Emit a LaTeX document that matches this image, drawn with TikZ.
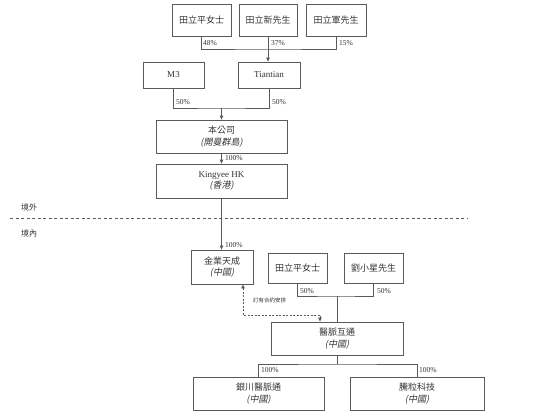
\documentclass[tikz,border=0pt]{standalone}
\usepackage{fontspec}
\setmainfont{Liberation Serif}
\newfontfamily\cjk{Noto Sans CJK TC}
\newfontfamily\cjkit[FakeSlant=0.2]{Noto Sans CJK TC}
\usetikzlibrary{arrows.meta,calc}
\definecolor{linec}{HTML}{5A5A5A}
\definecolor{txt}{HTML}{333333}
\tikzset{
  box/.style={draw=linec, line width=0.8pt, rectangle, inner sep=0pt, align=center,
    text=txt, font=\fontsize{9}{11.5}\selectfont\cjk},
  conn/.style={draw=linec, line width=0.8pt},
  arr/.style={conn, -{Triangle[length=4pt,width=3.5pt]}},
  pct/.style={anchor=west, inner sep=0pt, text=txt, font=\fontsize{7.5}{8}\selectfont},
  side/.style={anchor=west, inner sep=0pt, text=txt, font=\fontsize{8}{9}\selectfont\cjk},
}
\begin{document}
\begin{tikzpicture}[x=1pt,y=-1pt]
\useasboundingbox (0,0) rectangle (550,418);
% top shareholders
\node[box, minimum width=59pt, minimum height=32pt] (a1) at (201.5,20) {田立平女士};
\node[box, minimum width=58pt, minimum height=32pt] (a2) at (268,20) {田立新先生};
\node[box, minimum width=60pt, minimum height=32pt] (a3) at (336,20) {田立軍先生};
\node[box, minimum width=61pt, minimum height=26pt, font=\fontsize{9}{11}\selectfont] (m3) at (173.5,75) {M3};
\node[box, minimum width=62pt, minimum height=26pt, font=\fontsize{9}{11}\selectfont] (tt) at (269,75) {Tiantian};
\node[box, minimum width=131pt, minimum height=33pt] (co) at (221.5,136.5) {本公司\\{\cjkit(開曼群島)}};
\node[box, minimum width=131pt, minimum height=34pt] (hk) at (221.5,181) {{\rmfamily Kingyee HK}\\{\cjkit(香港)}};
\node[box, minimum width=62pt, minimum height=34pt] (jy) at (222,267) {金業天成\\{\cjkit(中國)}};
\node[box, minimum width=59pt, minimum height=30pt] (b1) at (297.5,268) {田立平女士};
\node[box, minimum width=59pt, minimum height=30pt] (b2) at (373.5,268) {劉小星先生};
\node[box, minimum width=132pt, minimum height=33pt] (ym) at (337,338.5) {醫脈互通\\{\cjkit(中國)}};
\node[box, minimum width=131pt, minimum height=33pt] (s1) at (258.5,393.5) {銀川醫脈通\\{\cjkit(中國)}};
\node[box, minimum width=134pt, minimum height=33pt] (s2) at (417,393.5) {騰粒科技\\{\cjkit(中國)}};

% junction coordinates
\coordinate (j1) at (268,49);
\coordinate (j2) at (221.5,108);
\coordinate (j3) at (337,296);
\coordinate (j4) at (337,364);
\coordinate (dl) at (243,315);
\coordinate (dr) at (320,315);
\coordinate (sepL) at (10,218);
\coordinate (sepR) at (468,218);

% top merge
\draw[conn] (a1.south) |- (j1) -| (a3.south);
\draw[conn] (a2.south) -- (j1);
\draw[arr] (j1) -- (j1 |- tt.north);
\node[pct] at (203,43) {48\%};
\node[pct] at (271,43) {37\%};
\node[pct] at (339,43) {15\%};

% M3 / Tiantian merge
\draw[conn] (m3.south) |- (j2) -| (tt.south);
\draw[arr] (j2) -- (co.north);
\node[pct] at (176,102) {50\%};
\node[pct] at (272,102) {50\%};

\draw[arr] (co.south) -- (hk.south |- hk.north);
\node[pct] at (225,158) {100\%};

% separator
\draw[linec, line width=0.8pt, dash pattern=on 3pt off 2.5pt] (sepL) -- (sepR);
\node[side] at (21,207) {境外};
\node[side] at (21,233) {境內};

\draw[arr] (hk.south) -- (jy.north -| hk.south);
\node[pct] at (225,245) {100\%};

% second merge
\draw[conn] (b1.south) |- (j3) -| (b2.south);
\draw[conn] (j3) -- (ym.north);
\node[pct] at (300,291) {50\%};
\node[pct] at (377,291) {50\%};

% contractual arrangement
\draw[conn, dash pattern=on 2pt off 1.5pt, {Triangle[length=4pt,width=3.5pt]}-{Triangle[length=4pt,width=3.5pt]}]
  (jy.south -| dl) -- (dl) -- (dr) -- (dr |- ym.north);
\node[side, font=\fontsize{5.5}{6}\selectfont\cjk] at (253,300) {訂有合約安排};

% bottom split
\draw[conn] (ym.south) -- (j4);
\draw[conn] (s1.north) |- (j4) -| (s2.north);
\node[pct] at (261,370) {100\%};
\node[pct] at (419,370) {100\%};
\end{tikzpicture}
\end{document}
